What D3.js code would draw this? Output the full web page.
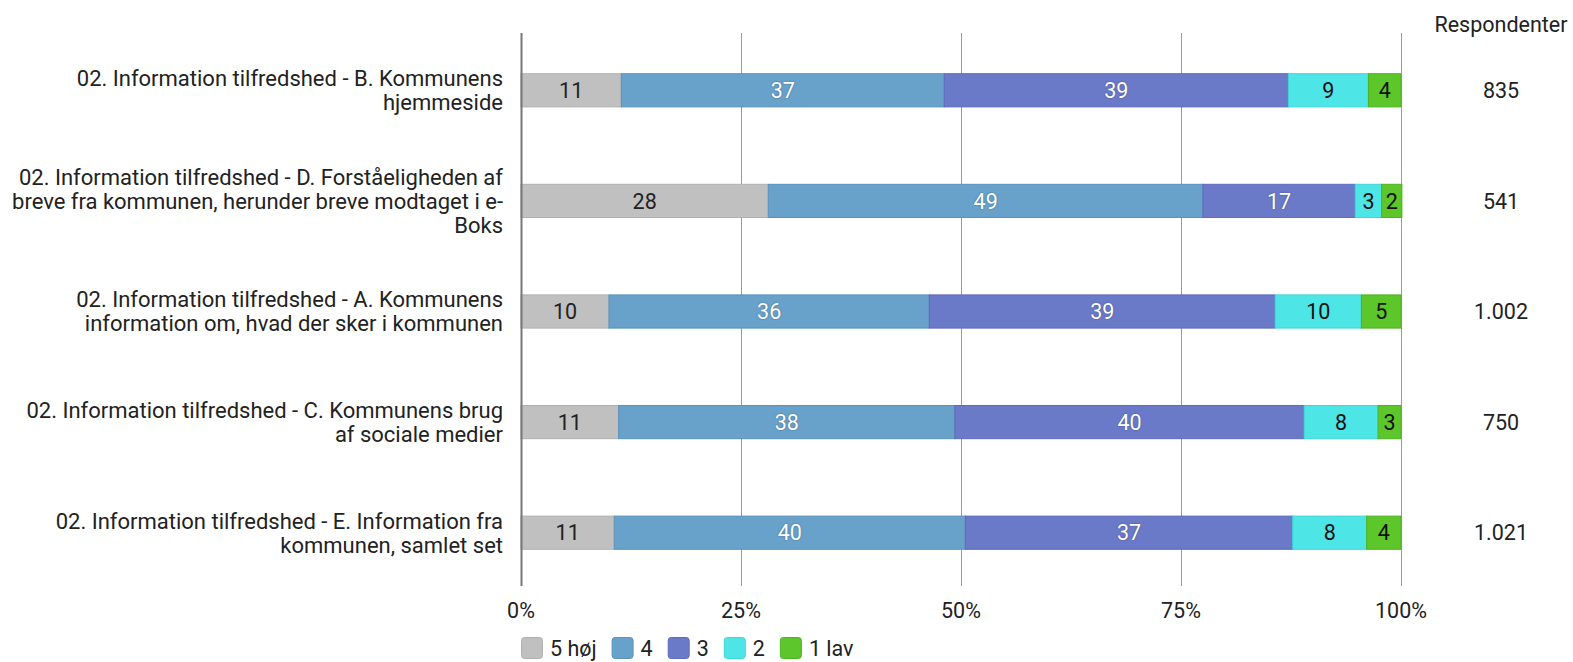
<!DOCTYPE html>
<html>
<head>
<meta charset="utf-8">
<script src="https://cdn.jsdelivr.net/npm/d3@7"></script>
<style>
  html, body { margin: 0; padding: 0; background: #fff; }
  svg { display: block; font-family: Roboto, "Noto Sans", sans-serif; }
</style>
</head>
<body>
<svg id="chart" width="1573" height="662"></svg>
<script>
// Question labels (each line of the wrapped label)
const questions = [
  ["02. Information tilfredshed - B. Kommunens", "hjemmeside"],
  ["02. Information tilfredshed - D. Forståeligheden af", "breve fra kommunen, herunder breve modtaget i e-", "Boks"],
  ["02. Information tilfredshed - A. Kommunens", "information om, hvad der sker i kommunen"],
  ["02. Information tilfredshed - C. Kommunens brug", "af sociale medier"],
  ["02. Information tilfredshed - E. Information fra", "kommunen, samlet set"]
];

// Answer categories, from "5 høj" to "1 lav"
const categories = ["5 høj", "4", "3", "2", "1 lav"];

// Share of answers (%) per category, one array per question
const s5 = [11.4, 28.1, 10.0, 11.1, 10.6];
const s4 = [36.7, 49.4, 36.4, 38.2, 39.9];
const s3 = [39.1, 17.3, 39.3, 39.7, 37.2];
const s2 = [9.1, 3.0, 9.8, 8.4, 8.4];
const s1 = [3.7, 2.3, 4.5, 2.6, 3.9];

// Number of respondents per question
const respondents = ["835", "541", "1.002", "750", "1.021"];

const tickValues = [0, 25, 50, 75, 100];

const colors = ["#c0c0c0", "#68a1ca", "#6b79c9", "#4de5e5", "#5cc62a"];
const strokes = ["#b0b0b0", "#5a92bb", "#5d6bba", "#3fd6d6", "#4fb320"];
const textColors = ["#222", "#fff", "#fff", "#111", "#111"];

const FS = 21.5;

const series = [s5, s4, s3, s2, s1];
const rows = questions.map((q, i) => {
  let acc = 0;
  const segs = series.map((s, k) => {
    const seg = { k, x0: acc, x1: acc + s[i], v: s[i] };
    acc += s[i];
    return seg;
  });
  return { q, i, segs, n: respondents[i] };
});

const svg = d3.select("#chart");
const plotLeft = 521, plotRight = 1401, plotTop = 33, plotBottom = 586;

const x = d3.scaleLinear().domain([0, 100]).range([plotLeft, plotRight]);
const y = d3.scaleBand().domain(d3.range(questions.length))
  .range([plotTop + 2, plotBottom + 2]).paddingInner(0.7).paddingOuter(0.35);

// Gridlines
svg.append("g")
  .selectAll("line")
  .data(tickValues.slice(1))
  .join("line")
  .attr("x1", d => x(d) + 0.5).attr("x2", d => x(d) + 0.5)
  .attr("y1", plotTop).attr("y2", plotBottom)
  .attr("stroke", "#9a9a9a").attr("stroke-width", 1);

// Tick labels
svg.append("g")
  .selectAll("text")
  .data(tickValues)
  .join("text")
  .attr("x", d => x(d))
  .attr("y", 610)
  .attr("dy", "0.36em")
  .attr("text-anchor", "middle")
  .attr("font-size", FS)
  .attr("fill", "#222")
  .text(d => d + "%");

// Stacked bars
const rowG = svg.append("g")
  .selectAll("g")
  .data(rows)
  .join("g");

rowG.selectAll("rect")
  .data(d => d.segs.map(s => ({ ...s, i: d.i })))
  .join("rect")
  .attr("x", d => x(d.x0))
  .attr("y", d => y(d.i))
  .attr("width", d => x(d.x1) - x(d.x0))
  .attr("height", y.bandwidth())
  .attr("fill", d => colors[d.k])
  .attr("stroke", d => strokes[d.k])
  .attr("stroke-width", 1);

rowG.selectAll("text.val")
  .data(d => d.segs.map(s => ({ ...s, i: d.i })))
  .join("text")
  .attr("class", "val")
  .attr("x", d => (x(d.x0) + x(d.x1)) / 2)
  .attr("y", d => y(d.i) + y.bandwidth() / 2)
  .attr("dy", "0.36em")
  .attr("text-anchor", "middle")
  .attr("font-size", FS)
  .attr("fill", d => textColors[d.k])
  .style("text-shadow", d => textColors[d.k] === "#fff" ? "0 0 2px rgba(0,0,0,0.35)" : "none")
  .text(d => Math.round(d.v));

// Zero axis line
svg.append("line")
  .attr("x1", plotLeft + 0.5).attr("x2", plotLeft + 0.5)
  .attr("y1", plotTop).attr("y2", plotBottom)
  .attr("stroke", "#777").attr("stroke-width", 2);

// Question labels
const lineH = 24;
rowG.append("text")
  .attr("text-anchor", "end")
  .attr("font-size", 22)
  .attr("fill", "#222")
  .each(function(d) {
    const cy = y(d.i) + y.bandwidth() / 2;
    const n = d.q.length;
    d3.select(this).selectAll("tspan")
      .data(d.q)
      .join("tspan")
      .attr("x", 503)
      .attr("y", (t, j) => cy + (j - (n - 1) / 2) * lineH)
      .attr("dy", "0.36em")
      .text(t => t);
  });

// Respondents column
svg.append("text")
  .attr("x", 1501).attr("y", 24)
  .attr("dy", "0.36em")
  .attr("text-anchor", "middle")
  .attr("font-size", FS)
  .attr("fill", "#222")
  .text("Respondenter");

rowG.append("text")
  .attr("x", 1501)
  .attr("y", d => y(d.i) + y.bandwidth() / 2)
  .attr("dy", "0.36em")
  .attr("text-anchor", "middle")
  .attr("font-size", FS)
  .attr("fill", "#222")
  .text(d => d.n);

// Legend
const legend = svg.append("g").attr("transform", "translate(521,637)");
let lx = 0;
categories.forEach((c, k) => {
  const g = legend.append("g").attr("transform", `translate(${lx},0)`);
  g.append("rect")
    .attr("x", 0.5).attr("y", 0.5)
    .attr("width", 21).attr("height", 21)
    .attr("rx", 3)
    .attr("fill", colors[k]).attr("stroke", strokes[k]);
  const t = g.append("text")
    .attr("x", 29).attr("y", 11.5)
    .attr("dy", "0.36em")
    .attr("font-size", FS)
    .attr("fill", "#222")
    .text(c);
  lx += 29 + t.node().getComputedTextLength() + 15;
});
</script>
</body>
</html>
